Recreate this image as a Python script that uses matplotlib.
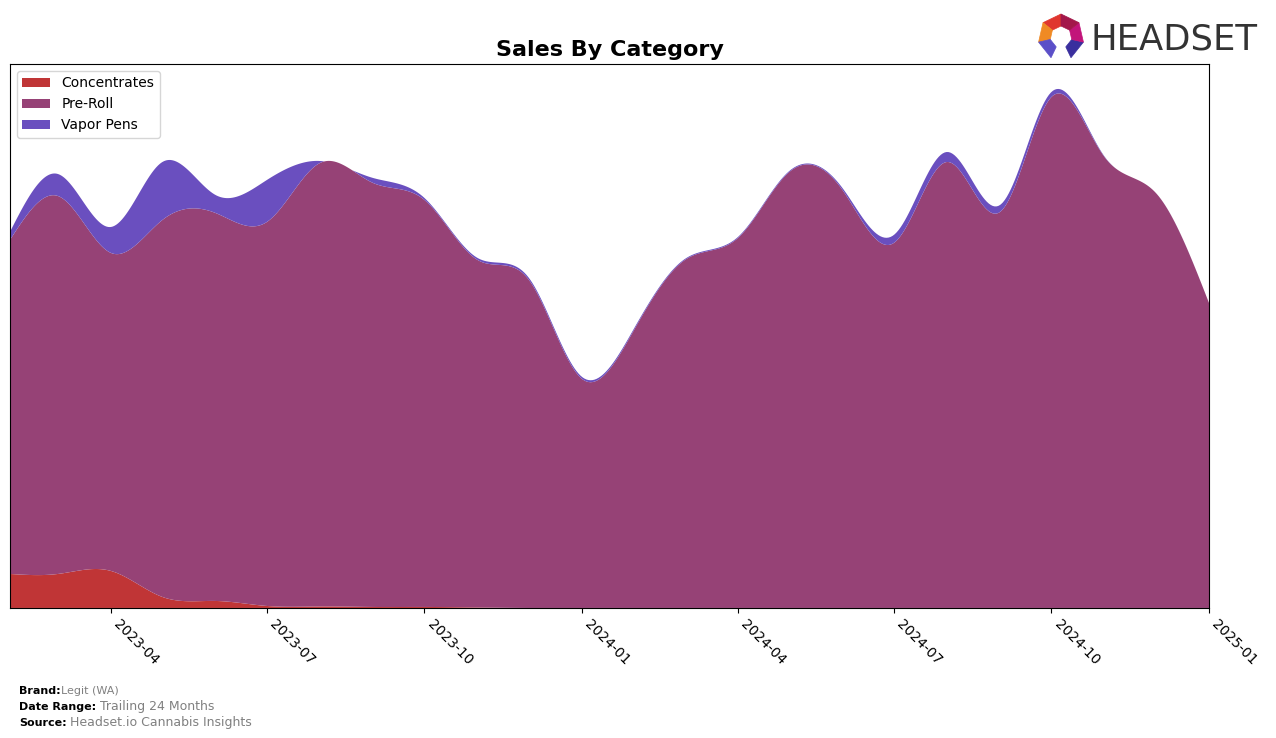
import numpy as np
import pandas as pd
import matplotlib
matplotlib.use("Agg")
import matplotlib.pyplot as plt
import matplotlib.dates as mdates
from matplotlib.patches import Polygon

# monthly sales (arbitrary units)
months = pd.date_range("2023-02-01", "2025-01-01", freq="MS")
concentrates = [34, 34, 37, 11, 7, 2, 1.5, 1, 1, 0.5, 0, 0,
                0, 0, 0, 0, 0, 0, 0, 0, 0, 0, 0, 0]
pre_roll = [334, 378, 318, 377, 388, 384, 443.5, 424, 407, 347.5, 328, 229,
            280, 348, 370, 436, 418, 365, 446, 396, 511, 451, 415, 305]
vapor_pens = [8, 22, 26, 58, 18, 42, 2, 5, 2, 2, 2, 2,
              1.5, 1, 1, 1, 2, 8, 10, 7, 5, 0.5, 0, 0]

labels = ["Concentrates", "Pre-Roll", "Vapor Pens"]
colors = ["#C03536", "#964276", "#6A4FBF"]


def natural_spline(x, y, xs):
    x = np.asarray(x, float)
    y = np.asarray(y, float)
    n = len(x)
    h = np.diff(x)
    A = np.zeros((n, n))
    b = np.zeros(n)
    A[0, 0] = A[-1, -1] = 1
    for i in range(1, n - 1):
        A[i, i - 1] = h[i - 1]
        A[i, i] = 2 * (h[i - 1] + h[i])
        A[i, i + 1] = h[i]
        b[i] = 3 * ((y[i + 1] - y[i]) / h[i] - (y[i] - y[i - 1]) / h[i - 1])
    c = np.linalg.solve(A, b)
    idx = np.clip(np.searchsorted(x, xs) - 1, 0, n - 2)
    dx = xs - x[idx]
    bb = (y[idx + 1] - y[idx]) / h[idx] - h[idx] * (2 * c[idx] + c[idx + 1]) / 3
    d = (c[idx + 1] - c[idx]) / (3 * h[idx])
    return y[idx] + bb * dx + c[idx] * dx ** 2 + d * dx ** 3


xnum = mdates.date2num(months)
xs = np.linspace(xnum[0], xnum[-1], 600)
series = [np.clip(natural_spline(xnum, s, xs), 0, None)
          for s in (concentrates, pre_roll, vapor_pens)]

fig = plt.figure(figsize=(12.76, 7.38), dpi=100)
ax = fig.add_axes([0.0078, 0.1762, 0.9397, 0.7371])
ax.stackplot(mdates.num2date(xs), *series, labels=labels, colors=colors)

ax.set_xlim(months[0], months[-1])
ax.set_ylim(0, 544)
ax.set_yticks([])
ax.xaxis.set_major_locator(mdates.MonthLocator(bymonth=[1, 4, 7, 10]))
ax.xaxis.set_major_formatter(mdates.DateFormatter("%Y-%m"))
plt.setp(ax.get_xticklabels(), rotation=-45, ha="left")
ax.tick_params(axis="x", labelsize=10)
ax.set_title("Sales By Category", fontsize=16, fontweight="bold", pad=6)
ax.legend(loc="upper left", fontsize=10)

# footer
fig.text(0.015, 0.060, "Brand:", fontsize=8, fontweight="bold")
fig.text(0.048, 0.060, "Legit (WA)", fontsize=8, color="gray")
fig.text(0.015, 0.038, "Date Range:", fontsize=8, fontweight="bold")
fig.text(0.078, 0.038, "Trailing 24 Months", fontsize=9, color="gray")
fig.text(0.015, 0.016, "Source:", fontsize=8, fontweight="bold")
fig.text(0.055, 0.016, "Headset.io Cannabis Insights", fontsize=9, color="gray")

# logo
fig.text(1091 / 1276, 1 - 39 / 738, "HEADSET", fontsize=25.5, color="#333333",
         va="center", ha="left")


def px(p):
    return (p[0] / 1276, 1 - p[1] / 738)


cx, cy, ro, ri = 1061, 37, 23, 11
angs = np.deg2rad(90 + np.arange(8) * 360 / 7)
outer = [(cx + ro * np.cos(a), cy - ro * np.sin(a)) for a in angs]
inner = [(cx + ri * np.cos(a), cy - ri * np.sin(a)) for a in angs]
seg_colors = ["#E0362F", "#F08A24", "#5B4FC8", None, "#3A2F9E", "#C2147A", "#A3174A"]
for i, col in enumerate(seg_colors):
    if col is None:
        continue
    quad = [outer[i], outer[i + 1], inner[i + 1], inner[i]]
    fig.patches.append(Polygon([px(p) for p in quad], closed=True,
                               facecolor=col, edgecolor=col, linewidth=0.5,
                               transform=fig.transFigure))

fig.savefig("out.png", dpi=100)
